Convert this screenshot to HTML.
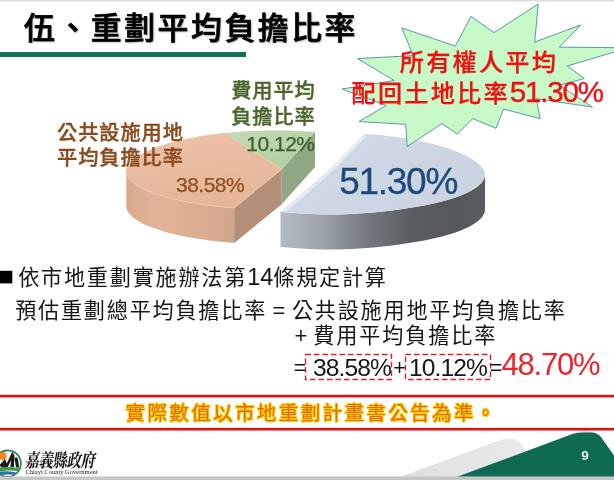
<!DOCTYPE html>
<html lang="zh-Hant">
<head>
<meta charset="utf-8">
<title>伍、重劃平均負擔比率</title>
<style>
html,body{margin:0;padding:0;background:#fff;}
body{width:614px;height:480px;overflow:hidden;position:relative;font-family:"Liberation Sans","Noto Sans CJK TC",sans-serif;}
#slide{position:absolute;left:0;top:0;width:614px;height:480px;overflow:hidden;background:#fff;}
svg{position:absolute;left:0;top:0;}
.t{position:absolute;white-space:nowrap;line-height:1;margin:0;padding:0;}
.t.num{line-height:1;}
.cjk{font-family:"Liberation Sans","Noto Sans CJK TC",sans-serif;}
.num{font-family:"Liberation Sans",sans-serif;letter-spacing:0;line-height:0;}
#title{left:24px;top:13.51px;font-size:30.8px;letter-spacing:2.6px;font-weight:500;-webkit-text-stroke:0.7px #000;color:#000;text-shadow:1px 1px 1.5px rgba(0,0,0,.4);}
.lab{font-weight:500;font-size:20.2px;letter-spacing:0.95px;-webkit-text-stroke:0.35px currentColor;}
.or{color:#8b4a1e;}
.gr{color:#4a6529;}
.body{font-size:21.1px;letter-spacing:1.8px;color:#151515;font-weight:400;}
.bnum{font-family:"Liberation Sans",sans-serif;font-size:24.6px;letter-spacing:-0.9px;color:#151515;}
.red{color:#f01010;}
.burst{font-size:24.2px;letter-spacing:2.2px;font-weight:500;-webkit-text-stroke:0.25px #f01010;}
</style>
</head>
<body>
<div id="slide">
<svg width="614" height="480" viewBox="0 0 614 480">
  <defs>
    <linearGradient id="gw" x1="0" y1="0" x2="1" y2="0">
      <stop offset="0" stop-color="#b4bbc3"/>
      <stop offset="0.18" stop-color="#a0a7af"/>
      <stop offset="0.42" stop-color="#757a81"/>
      <stop offset="0.62" stop-color="#5b5f64"/>
      <stop offset="0.85" stop-color="#54585c"/>
      <stop offset="1" stop-color="#585c60"/>
    </linearGradient>
    <linearGradient id="bt" x1="0" y1="0" x2="1" y2="0.4">
      <stop offset="0" stop-color="#dbe3ec"/>
      <stop offset="0.35" stop-color="#cfd9e5"/>
      <stop offset="1" stop-color="#cad5e1"/>
    </linearGradient>
    <linearGradient id="fg" x1="0" y1="0" x2="1" y2="0">
      <stop offset="0" stop-color="#dedede"/>
      <stop offset="1" stop-color="#ececec"/>
    </linearGradient>
    <linearGradient id="ow" x1="0" y1="0" x2="1" y2="0">
      <stop offset="0" stop-color="#d9aa8d"/>
      <stop offset="0.3" stop-color="#e3b598"/>
      <stop offset="0.7" stop-color="#dbad90"/>
      <stop offset="1" stop-color="#cfa68a"/>
    </linearGradient>
    <linearGradient id="ot" x1="0" y1="0" x2="0.3" y2="1">
      <stop offset="0" stop-color="#ecc2a7"/>
      <stop offset="1" stop-color="#e5b698"/>
    </linearGradient>
    <linearGradient id="gt" x1="0" y1="0" x2="1" y2="1">
      <stop offset="0" stop-color="#c3dab5"/>
      <stop offset="1" stop-color="#b0cd9f"/>
    </linearGradient>
  </defs>
  <!-- top & bottom hairlines -->
  <rect x="0" y="0" width="614" height="1.5" fill="#dcdcdc"/>
  
  <!-- title underline -->
  <rect x="0" y="52" width="246" height="5" fill="#0f7259"/>

  <!-- footer shapes -->
  <path d="M394.5 479 L497 441.2 Q506 438 513 439.2 Q519.5 440.5 523 446 L545 479 Z" fill="url(#fg)"/>
  <path d="M570 435 Q577 430.6 586 430.8 Q595 431 601 437 L570 437 Z" fill="#d6dcda"/>
  <path d="M451 479 L571 434.6 Q577 432.4 583 432.4 L591 432.4 Q597.5 432.6 601 437 L614 455.5 L614 479 Z" fill="#0e6b52"/>

  <!-- orange slice -->
  <path d="M126.3 171.0 L126.4 172.2 L126.6 173.5 L127.0 174.7 L127.5 175.9 L128.2 177.2 L129.1 178.4 L130.1 179.6 L131.2 180.8 L132.5 182.0 L134.0 183.2 L135.6 184.3 L137.3 185.5 L139.2 186.6 L141.2 187.8 L143.4 188.9 L145.7 189.9 L148.2 191.0 L150.7 192.1 L153.4 193.1 L156.3 194.1 L159.2 195.1 L162.3 196.0 L165.5 196.9 L168.8 197.9 L172.2 198.7 L175.7 199.6 L179.4 200.4 L183.1 201.2 L186.9 201.9 L190.9 202.6 L194.9 203.3 L199.0 204.0 L203.1 204.6 L207.4 205.2 L211.7 205.7 L216.1 206.3 L220.5 206.7 L225.0 207.2 L229.6 207.6 L234.2 208.0 L234.2 243.0 L229.6 242.6 L225.0 242.2 L220.5 241.7 L216.1 241.3 L211.7 240.7 L207.4 240.2 L203.1 239.6 L199.0 239.0 L194.9 238.3 L190.9 237.6 L186.9 236.9 L183.1 236.2 L179.4 235.4 L175.7 234.6 L172.2 233.7 L168.8 232.9 L165.5 231.9 L162.3 231.0 L159.2 230.1 L156.3 229.1 L153.4 228.1 L150.7 227.1 L148.2 226.0 L145.7 224.9 L143.4 223.9 L141.2 222.8 L139.2 221.6 L137.3 220.5 L135.6 219.3 L134.0 218.2 L132.5 217.0 L131.2 215.8 L130.1 214.6 L129.1 213.4 L128.2 212.2 L127.5 210.9 L127.0 209.7 L126.6 208.5 L126.4 207.2 L126.3 206.0 Z" fill="url(#ow)"/>
  <path d="M281.7 169.3 L315.0 132.0 L315.0 167.0 L281.7 204.3 Z" fill="#8fa782"/>
  <path d="M281.7 169.3 L234.2 208.0 L234.2 243.0 L281.7 204.3 Z" fill="#b48f77"/>
  <path d="M281.7 169.3 L224.5 133.2 L228.8 132.7 L233.2 132.3 L237.7 132.0 L242.1 131.6 L246.6 131.4 L251.1 131.1 L255.7 130.9 L260.3 130.8 L264.8 130.6 L269.4 130.5 L274.0 130.5 L278.6 130.5 L283.2 130.5 L287.8 130.6 L292.4 130.8 L297.0 130.9 L301.5 131.1 L306.0 131.4 L310.5 131.7 L315.0 132.0 Z" fill="url(#gt)"/>
  <path d="M281.7 169.3 L224.5 133.2 L215.8 134.2 L207.3 135.4 L199.1 136.7 L191.2 138.2 L183.7 139.8 L176.5 141.5 L169.7 143.3 L163.3 145.3 L157.3 147.3 L151.8 149.4 L146.8 151.6 L142.4 153.9 L138.4 156.2 L135.0 158.6 L132.1 160.9 L129.8 163.3 L128.1 165.7 L126.9 168.0 L126.4 170.1 L126.4 172.3 L127.0 174.7 L128.2 177.1 L130.0 179.5 L132.3 181.8 L135.2 184.1 L138.7 186.3 L142.7 188.5 L147.3 190.6 L152.3 192.7 L157.8 194.6 L163.8 196.5 L170.2 198.2 L177.1 199.9 L184.3 201.4 L191.9 202.8 L199.8 204.1 L208.1 205.3 L216.5 206.3 L225.3 207.2 L234.2 208.0 Z" fill="url(#ot)" stroke="#efc7ae" stroke-width="0.8" stroke-linejoin="round"/>
  <!-- blue slice -->
  <path d="M485.0 174.5 L484.8 176.4 L484.3 178.2 L483.4 180.1 L482.2 181.9 L480.6 183.8 L478.7 185.6 L476.4 187.3 L473.8 189.1 L470.9 190.8 L467.7 192.5 L464.1 194.1 L460.2 195.7 L456.1 197.2 L451.6 198.7 L446.9 200.1 L442.0 201.5 L436.7 202.8 L431.2 204.0 L425.5 205.2 L419.6 206.3 L413.5 207.3 L407.2 208.3 L400.8 209.3 L394.1 210.2 L387.4 211.0 L380.5 211.8 L373.5 212.4 L366.4 213.0 L359.3 213.5 L352.0 213.9 L344.8 214.2 L337.5 214.4 L330.2 214.5 L323.0 214.4 L315.7 214.2 L308.5 213.9 L301.4 213.5 L294.3 213.0 L287.4 212.4 L280.5 211.8 L280.5 246.8 L287.4 247.4 L294.3 248.0 L301.4 248.5 L308.5 248.9 L315.7 249.2 L323.0 249.4 L330.2 249.5 L337.5 249.4 L344.8 249.2 L352.0 248.9 L359.3 248.5 L366.4 248.0 L373.5 247.4 L380.5 246.8 L387.4 246.0 L394.1 245.2 L400.8 244.3 L407.2 243.3 L413.5 242.3 L419.6 241.3 L425.5 240.2 L431.2 239.0 L436.7 237.8 L442.0 236.5 L446.9 235.1 L451.6 233.7 L456.1 232.2 L460.2 230.7 L464.1 229.1 L467.7 227.5 L470.9 225.8 L473.8 224.1 L476.4 222.3 L478.7 220.6 L480.6 218.8 L482.2 216.9 L483.4 215.1 L484.3 213.2 L484.8 211.4 L485.0 209.5 Z" fill="url(#gw)"/>
  <path d="M364.0 133.9 L372.1 134.4 L380.1 135.1 L387.9 135.9 L395.6 136.9 L403.1 137.9 L410.4 139.1 L417.4 140.4 L424.2 141.9 L430.8 143.4 L437.0 145.0 L442.9 146.7 L448.5 148.5 L453.8 150.4 L458.6 152.3 L463.2 154.3 L467.3 156.3 L471.0 158.4 L474.3 160.5 L477.1 162.7 L479.6 164.8 L481.6 166.9 L483.1 169.0 L484.2 171.1 L484.8 173.0 L485.0 174.8 L484.7 176.9 L484.0 179.0 L482.8 181.1 L481.1 183.2 L479.0 185.3 L476.5 187.3 L473.5 189.3 L470.1 191.2 L466.3 193.1 L462.1 194.9 L457.5 196.7 L452.5 198.4 L447.2 200.1 L441.5 201.6 L435.5 203.1 L429.2 204.5 L422.6 205.7 L415.8 206.9 L408.7 208.1 L401.3 209.2 L393.8 210.2 L386.1 211.2 L378.2 212.0 L370.2 212.7 L362.1 213.3 L353.9 213.8 L345.6 214.2 L337.3 214.5 L329.0 214.5 L320.7 214.3 L312.5 214.0 L304.3 213.7 L296.3 213.1 L288.3 212.5 L280.5 211.8 L333 166.3 Z" fill="url(#bt)"/>
  <clipPath id="btc"><path d="M364.0 133.9 L372.1 134.4 L380.1 135.1 L387.9 135.9 L395.6 136.9 L403.1 137.9 L410.4 139.1 L417.4 140.4 L424.2 141.9 L430.8 143.4 L437.0 145.0 L442.9 146.7 L448.5 148.5 L453.8 150.4 L458.6 152.3 L463.2 154.3 L467.3 156.3 L471.0 158.4 L474.3 160.5 L477.1 162.7 L479.6 164.8 L481.6 166.9 L483.1 169.0 L484.2 171.1 L484.8 173.0 L485.0 174.8 L484.7 176.9 L484.0 179.0 L482.8 181.1 L481.1 183.2 L479.0 185.3 L476.5 187.3 L473.5 189.3 L470.1 191.2 L466.3 193.1 L462.1 194.9 L457.5 196.7 L452.5 198.4 L447.2 200.1 L441.5 201.6 L435.5 203.1 L429.2 204.5 L422.6 205.7 L415.8 206.9 L408.7 208.1 L401.3 209.2 L393.8 210.2 L386.1 211.2 L378.2 212.0 L370.2 212.7 L362.1 213.3 L353.9 213.8 L345.6 214.2 L337.3 214.5 L329.0 214.5 L320.7 214.3 L312.5 214.0 L304.3 213.7 L296.3 213.1 L288.3 212.5 L280.5 211.8 L333 166.3 Z"/></clipPath>
  <path d="M280.5 212 L333 166.3 L364 133.9" fill="none" stroke="#ffffff" stroke-opacity="0.45" stroke-width="7" clip-path="url(#btc)"/>

  <!-- starburst -->
  <polygon points="494.0,32.6 538.2,4.0 534.7,42.1 580.8,24.9 559.3,47.1 628.5,47.8 567.3,66.0 584.3,78.5 559.3,85.2 592.4,107.1 536.2,98.7 540.2,118.6 503.6,109.1 496.0,128.3 472.9,118.6 457.4,134.0 441.8,123.6 407.2,146.5 405.7,124.3 359.0,121.6 386.2,105.4 342.0,89.0 394.2,80.5 357.5,58.6 413.3,55.6 401.7,27.9 455.4,46.1 471.0,16.4" fill="#c8fac8" stroke="#5a98a8" stroke-width="1" stroke-linejoin="miter"/>

  <!-- dashed boxes -->
  <rect x="305.5" y="354.5" width="86" height="25" fill="none" stroke="#e81c24" stroke-width="1.4" stroke-dasharray="5.5 3"/>
  <rect x="405.5" y="354.5" width="85" height="25" fill="none" stroke="#e81c24" stroke-width="1.4" stroke-dasharray="5.5 3"/>
  <!-- red frame -->
  <rect x="-3" y="396.1" width="620" height="33.1" fill="#fff" stroke="#dc1212" stroke-width="2.6"/>
  <!-- bullet -->
  <rect x="0" y="270.8" width="12.3" height="12.6" fill="#000"/>

  <!-- logo -->
  <g>
    <clipPath id="lc"><circle cx="7.6" cy="463.6" r="12.6"/></clipPath>
    <circle cx="7.6" cy="463.6" r="13.3" fill="#fff" stroke="#2f7f5f" stroke-width="1.7"/>
    <g clip-path="url(#lc)">
      <circle cx="2.7" cy="456" r="3.9" fill="#f58a1f"/>
      <path d="M-1 465.5 L5 459 L6.8 463.6 L12.2 451.8 L14.6 455.5 L13.8 467.2 L10.4 467.2 L11 460 L7.6 467.4 L2.5 467.4 Z" fill="#1a1a1a"/>
      <path d="M14.6 458.5 Q16.8 455.8 17.9 459 L19.2 467.4 L16 467.4 Z" fill="#1a1a1a"/>
      <path d="M-2 467.6 Q8 466 21 468.4 L20.5 471.4 Q8 469.4 -2 471.6 Z" fill="#3f9a4a"/>
      <path d="M-2 472 Q6 470.2 16 472.6 L19.8 472 L17.5 475.4 Q6 473.6 -2 475.8 Z" fill="#2a6fb5"/>
    </g>
  </g>
  <rect x="0" y="476.6" width="614" height="3.4" fill="#c6c6c6"/>
  <rect x="0" y="475.9" width="614" height="0.8" fill="#c6c6c6" opacity="0.35"/>
</svg>

<div id="title" class="t cjk">伍、重劃平均負擔比率</div>

<div class="t cjk lab or" style="left:57px;top:123.31px;">公共設施用地</div>
<div class="t cjk lab or" style="left:57px;top:148.46px;">平均負擔比率</div>
<div class="t num" style="left:176px;top:173.6px;font-size:21px;letter-spacing:-0.5px;color:#8f4e1d;-webkit-text-stroke:0.25px #8f4e1d;">38.58%</div>

<div class="t cjk lab gr" style="left:231.2px;top:81.41px;">費用平均</div>
<div class="t cjk lab gr" style="left:231.2px;top:107.41px;">負擔比率</div>
<div class="t num" style="left:246.3px;top:132.9px;font-size:21px;letter-spacing:-0.5px;color:#3a5c28;-webkit-text-stroke:0.25px #3a5c28;">10.12%</div>

<div class="t num" style="left:339.3px;top:162.6px;font-size:37px;letter-spacing:-1.3px;color:#1f497d;-webkit-text-stroke:0.3px #1f497d;">51.30%</div>

<div class="t cjk red burst" style="left:399.8px;top:50.97px;">所有權人平均</div>
<div class="t cjk red burst" style="left:351.5px;top:82.47px;">配回土地比率<span class="num" style="font-size:29.5px;letter-spacing:-1.2px;font-weight:400;-webkit-text-stroke:0.35px #f01010;">51.30%</span></div>

<div class="t cjk body" style="left:18.2px;top:267.49px;">依市地重劃實施辦法第<span class="num" style="font-size:23.5px">14</span>條規定計算</div>
<div class="t cjk body" style="left:15.2px;top:300.44px;">預估重劃總平均負擔比率<span class="num" style="font-size:22px;letter-spacing:-0.6px;"> = </span><span style="letter-spacing:1.8px;margin-left:1.6px;">公共設施用地平均負擔比率</span></div>
<div class="t cjk body" style="left:294.4px;top:325.44px;"><span class="num" style="font-size:22px;letter-spacing:0px;">+ </span><span style="letter-spacing:1.9px;">費用平均負擔比率</span></div>
<div class="t bnum" style="left:293.7px;top:357.6px;font-size:21.5px;">=</div>
<div class="t bnum" style="left:313px;top:355.5px;">38.58%</div>
<div class="t bnum" style="left:393.3px;top:357.6px;font-size:21.5px;">+</div>
<div class="t bnum" style="left:409px;top:355.5px;">10.12%</div>
<div class="t bnum" style="left:489.7px;top:357.6px;font-size:21.5px;">=</div>
<div class="t num" style="left:501.5px;top:349px;font-size:31px;letter-spacing:-1.2px;color:#ee2229;">48.70%</div>

<div class="t cjk" style="left:125.5px;top:403.75px;font-size:19.6px;letter-spacing:2.3px;font-weight:400;color:#e66a00;text-shadow:0.9px 0 0 #ffd21a,-0.9px 0 0 #ffd21a,0 0.9px 0 #ffd21a,0 -0.9px 0 #ffd21a,0.7px 0.7px 0 #ffd21a,-0.7px -0.7px 0 #ffd21a,0.7px -0.7px 0 #ffd21a,-0.7px 0.7px 0 #ffd21a,0 0 2px #ffe45e;">實際數值以市地重劃計畫書公告為準。</div>

<div class="t" style="left:23.5px;top:455.50px;font-size:14.4px;font-family:'Liberation Serif','Noto Serif CJK SC',serif;font-weight:700;color:#111;letter-spacing:-0.4px;transform:skewX(-10deg) scaleY(1.3);transform-origin:0 100%;">嘉義縣政府</div>
<div class="t" style="left:25.4px;top:469.3px;font-size:6.5px;font-family:'Liberation Serif',serif;color:#222;">Chiayi County Government</div>
<div class="t num" style="left:581.3px;top:448.7px;font-size:13.5px;font-weight:700;color:#e6eeeb;">9</div>
</div>
</body>
</html>
